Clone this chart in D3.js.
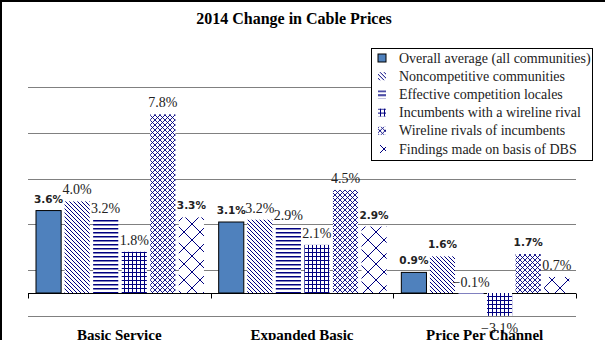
<!DOCTYPE html>
<html>
<head>
<meta charset="utf-8">
<script src="https://cdn.jsdelivr.net/npm/d3@7/dist/d3.min.js"></script>
<style>
  html, body { margin: 0; padding: 0; background: #fff; }
  svg { display: block; }
</style>
</head>
<body>
<svg id="chart" width="605" height="340"></svg>
<script>
// Chart data
const title = "2014 Change in Cable Prices";
const categories = ["Basic Service", "Expanded Basic", "Price Per Channel"];
const seriesNames = [
  "Overall average (all communities)",
  "Noncompetitive communities",
  "Effective competition locales",
  "Incumbents with a wireline rival",
  "Wireline rivals of incumbents",
  "Findings made on basis of DBS"
];
// one array per series, values in percent, ordered as categories
const overallAverage   = [3.6, 3.1, 0.9];
const noncompetitive   = [4.0, 3.2, 1.6];
const effectiveComp    = [3.2, 2.9, -0.1];
const incumbentsRival  = [1.8, 2.1, -3.1];
const wirelineRivals   = [7.8, 4.5, 1.7];
const dbsFindings      = [3.3, 2.9, 0.7];
// labels shown in bold (statistically notable findings)
const boldOverall      = [true, true, true];
const boldNoncomp      = [false, false, true];
const boldEffective    = [false, false, false];
const boldIncumbents   = [false, false, false];
const boldWireline     = [false, false, true];
const boldDbs          = [true, true, false];
const yDomain = [-1, 9];
const gridValues = [-1, 1, 3, 5, 7, 9];

const seriesValues = [overallAverage, noncompetitive, effectiveComp, incumbentsRival, wirelineRivals, dbsFindings];
const seriesBold = [boldOverall, boldNoncomp, boldEffective, boldIncumbents, boldWireline, boldDbs];

const svg = d3.select("#chart");
const navy = "#000080";
const defs = svg.append("defs");

// Fill patterns for the hatched series
function pattern(id, size, paths, width) {
  const p = defs.append("pattern").attr("id", id)
    .attr("patternUnits", "userSpaceOnUse")
    .attr("width", size).attr("height", size);
  p.append("rect").attr("width", size).attr("height", size).attr("fill", "#fff");
  p.append("path").attr("d", paths).attr("stroke", navy)
    .attr("stroke-width", width).attr("fill", "none");
}
pattern("p-diag", 4, "M-1,-1L5,5M3,-1L5,1M-1,3L1,5", 1);
pattern("p-horiz", 4, "M0,0.75H4", 1.5);
pattern("p-grid", 4, "M0,0.5H4M0.5,0V4", 1);
pattern("p-smalldiamond", 5, "M0,0L5,5M0,5L5,0", 0.9);
pattern("p-bigdiamond", 16, "M0,0L16,16M0,16L16,0", 1);

const fills = ["#4F81BD", "url(#p-diag)", "url(#p-horiz)", "url(#p-grid)", "url(#p-smalldiamond)", "url(#p-bigdiamond)"];

// Scales
const y = d3.scaleLinear().domain(yDomain).range([315.9, 86.9]);
const x0 = d3.scaleBand().domain(categories).range([28, 576]);
const x1 = d3.scaleBand().domain(d3.range(seriesNames.length))
  .range([8, x0.bandwidth() - 6.7]).paddingInner(0.12);

// Frame edges
svg.append("line").attr("x1", 1).attr("x2", 1).attr("y1", 0).attr("y2", 340)
  .attr("stroke", "#000").attr("stroke-width", 2);
svg.append("line").attr("x1", 0).attr("x2", 605).attr("y1", 1).attr("y2", 1)
  .attr("stroke", "#000").attr("stroke-width", 2);

// Title
svg.append("text").attr("x", 294).attr("y", 24)
  .attr("text-anchor", "middle")
  .attr("font-family", "Liberation Serif, Times New Roman, serif")
  .attr("font-weight", "bold").attr("font-size", 16).attr("fill", "#000")
  .text(title);

// Gridlines
svg.append("g").selectAll("line").data(gridValues).join("line")
  .attr("x1", 28).attr("x2", 576)
  .attr("y1", d => Math.round(y(d)) + 0.5).attr("y2", d => Math.round(y(d)) + 0.5)
  .attr("stroke", "#808080").attr("stroke-width", 1);

// Category axis at zero
const zeroY = Math.round(y(0)) + 0.5;
const xAxis = d3.axisBottom(x0).tickSize(0).tickFormat("");
const axisG = svg.append("g").attr("transform", `translate(0,${zeroY})`).call(xAxis);
axisG.select(".domain").attr("stroke", "#000").attr("d", `M28,0H576`);
const boundaries = categories.map(c => x0(c)).concat([x0.range()[1]]);
axisG.selectAll(".bound").data(boundaries).join("line").attr("class", "bound")
  .attr("x1", d => Math.round(d) + 0.5).attr("x2", d => Math.round(d) + 0.5)
  .attr("y1", 0).attr("y2", 5).attr("stroke", "#000");

// Bars
const clamp = v => Math.max(yDomain[0], Math.min(yDomain[1], v));
const barData = [];
categories.forEach((c, ci) => {
  seriesValues.forEach((vals, si) => {
    barData.push({ cat: c, si, value: vals[ci], bold: seriesBold[si][ci] });
  });
});
svg.append("g").selectAll("rect").data(barData).join("rect")
  .attr("x", d => x0(d.cat) + x1(d.si))
  .attr("width", x1.bandwidth())
  .attr("y", d => y(Math.max(0, clamp(d.value))))
  .attr("height", d => Math.abs(y(clamp(d.value)) - y(0)))
  .attr("fill", d => fills[d.si])
  .attr("stroke", d => d.si === 0 ? "#000" : "none")
  .attr("stroke-width", 1);

// Value labels
svg.append("g").selectAll("text").data(barData).join("text")
  .attr("x", d => x0(d.cat) + x1(d.si) + x1.bandwidth() / 2)
  .attr("y", d => {
    const end = y(clamp(d.value));
    if (d.value >= 0) return end - (d.bold ? 8 : 7);
    if (end - y(0) < 10) return y(0) - 6.5;
    return end + 17;
  })
  .attr("text-anchor", "middle")
  .attr("font-family", d => d.bold ? "DejaVu Sans, Verdana, sans-serif" : "Liberation Serif, Times New Roman, serif")
  .attr("font-weight", d => d.bold ? "bold" : "normal")
  .attr("font-size", d => d.bold ? 10.5 : 14)
  .attr("fill", "#222")
  .text(d => d3.format(".1f")(d.value) + "%");

// Category labels
svg.append("g").selectAll("text").data(categories).join("text")
  .attr("x", d => x0(d) + x0.bandwidth() / 2).attr("y", 340)
  .attr("text-anchor", "middle")
  .attr("font-family", "Liberation Serif, Times New Roman, serif")
  .attr("font-weight", "bold").attr("font-size", 15).attr("fill", "#000")
  .text(d => d);

// Legend
const legend = svg.append("g");
legend.append("rect").attr("x", 371.5).attr("y", 48.5).attr("width", 221).attr("height", 112)
  .attr("fill", "#fff").attr("stroke", "#000").attr("stroke-width", 1);
const rows = legend.selectAll("g.row").data(seriesNames).join("g").attr("class", "row")
  .attr("transform", (d, i) => `translate(0,${58 + i * 18.2})`);
rows.append("rect").attr("x", 378).attr("y", -4).attr("width", 8).attr("height", 8)
  .attr("fill", (d, i) => fills[i])
  .attr("stroke", (d, i) => i === 0 ? "#000" : "none");
rows.append("text").attr("x", 399).attr("y", 4.5)
  .attr("font-family", "Liberation Serif, Times New Roman, serif")
  .attr("font-size", 14).attr("fill", "#222")
  .text(d => d);
</script>
</body>
</html>
